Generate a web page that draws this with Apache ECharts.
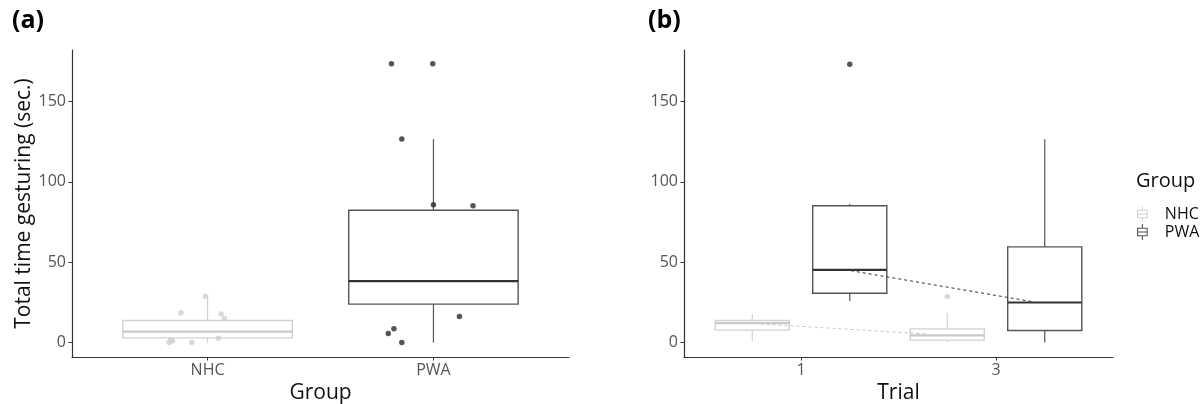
<!DOCTYPE html>
<html>
<head>
<meta charset="utf-8">
<script src="https://cdn.jsdelivr.net/npm/echarts@6/dist/echarts.min.js"></script>
<style>
  html, body { margin: 0; padding: 0; background: #fff; }
  #chart { width: 1202px; height: 404px; }
</style>
</head>
<body>
<div id="chart"></div>
<script>
// ---- data ----
const groups = ['NHC', 'PWA'];
const trials = ['1', '3'];
const yTicks = [0, 50, 100, 150];

// panel (a): box stats per group [min, q1, median, q3, max]
const nhcStatsA = [0, 2.9, 6.8, 13.7, 29.0];
const pwaStatsA = [0, 23.9, 38.2, 82.3, 126.6];

// panel (a): jittered observations [x, seconds]
const nhcPointsA = [[0.830, 0], [0.845, 1.0], [0.837, 1.7], [0.930, 0], [0.882, 18.6],
                    [0.991, 28.8], [1.060, 17.8], [1.075, 14.9], [1.048, 2.7]];
const pwaPointsA = [[1.814, 173.4], [1.997, 173.4], [1.860, 126.6], [2.000, 85.8],
                    [2.175, 85.1], [2.115, 16.2], [1.825, 8.5], [1.800, 5.6], [1.860, 0]];

// panel (b): box stats per trial [min, q1, median, q3, max]
const nhcStatsB = [[0.6, 7.7, 12.1, 13.7, 17.8], [0, 1.5, 4.4, 8.5, 18.3]];
const pwaStatsB = [[25.9, 30.7, 45.2, 85.1, 86.2], [0, 7.5, 24.9, 59.5, 126.4]];

// panel (b): outliers [trial index, seconds]
const nhcOutliersB = [[2, 28.6]];
const pwaOutliersB = [[1, 173.2]];

// panel (b): dashed trend between trials [x, seconds]
const nhcTrendB = [[0.793, 11.6], [1.656, 5.2]];
const pwaTrendB = [[1.256, 44.7], [2.193, 25.3]];

// ---- styling ----
const FONT = '"Open Sans", Lato, sans-serif';
const NHC_COLOR = '#d2d2d2';
const NHC_MED = '#cacaca';
const PWA_COLOR = '#555555';
const PWA_MED = '#333333';
const NHC_PT = '#cfcfcf';
const PWA_PT = '#2b2b2b';

const DODGE = 0.25;

function boxRenderer(stroke, medStroke, half) {
  return function (params, api) {
    const x = api.value(0);
    const mn = api.value(1), q1 = api.value(2), md = api.value(3), q3 = api.value(4), mx = api.value(5);
    const cMax = api.coord([x, mx]);
    const cMin = api.coord([x, mn]);
    const tl = api.coord([x - half, q3]);
    const br = api.coord([x + half, q1]);
    const mL = api.coord([x - half, md]);
    const mR = api.coord([x + half, md]);
    return {
      type: 'group',
      children: [
        { type: 'line', shape: { x1: cMax[0], y1: cMax[1], x2: cMax[0], y2: tl[1] },
          style: { stroke: stroke, lineWidth: 1.2 } },
        { type: 'line', shape: { x1: cMin[0], y1: br[1], x2: cMin[0], y2: cMin[1] },
          style: { stroke: stroke, lineWidth: 1.2 } },
        { type: 'rect', shape: { x: tl[0], y: tl[1], width: br[0] - tl[0], height: br[1] - tl[1] },
          style: { fill: '#ffffff', stroke: stroke, lineWidth: 1.4 } },
        { type: 'line', shape: { x1: mL[0], y1: mL[1], x2: mR[0], y2: mR[1] },
          style: { stroke: medStroke, lineWidth: 2.2 } }
      ]
    };
  };
}

// box-plot glyph for the legend, built from thin filled bars
const BOX_ICON = 'path://' +
  'M0 3.5H10V4.5H0Z M0 10.5H10V11.5H0Z M0 3.5H1V11.5H0Z M9 3.5H10V11.5H9Z ' +
  'M0 7H10V8H0Z M4.5 0H5.5V3.5H4.5Z M4.5 11.5H5.5V15H4.5Z';

function yAxis(gridIndex, withName) {
  return {
    type: 'value', gridIndex: gridIndex, min: -9, max: 182,
    name: withName ? 'Total time gesturing (sec.)' : '',
    nameLocation: 'middle', nameGap: 37,
    nameTextStyle: { fontFamily: FONT, fontSize: 21, color: '#111' },
    axisLine: { show: true, lineStyle: { color: '#333', width: 1.2 } },
    axisTick: { show: true, length: 3.5, customValues: yTicks, lineStyle: { color: '#333' } },
    axisLabel: { customValues: yTicks, margin: 6, fontFamily: FONT, fontSize: 16, color: '#555' },
    splitLine: { show: false }
  };
}

function xAxis(gridIndex, labels, name) {
  return {
    type: 'value', gridIndex: gridIndex, min: 0.4, max: 2.6,
    name: name, nameLocation: 'middle', nameGap: 23,
    nameTextStyle: { fontFamily: FONT, fontSize: 21, color: '#111' },
    axisLine: { show: true, onZero: false, lineStyle: { color: '#333', width: 1.2 } },
    axisTick: { show: true, length: 3.5, customValues: [1, 2], lineStyle: { color: '#333' } },
    axisLabel: { customValues: [1, 2], margin: 5, fontFamily: FONT, fontSize: 16, color: '#555',
                 formatter: v => labels[Math.round(v) - 1] },
    splitLine: { show: false }
  };
}

const series = [
  // panel (a)
  { name: 'NHC', type: 'custom', xAxisIndex: 0, yAxisIndex: 0, itemStyle: { color: NHC_COLOR },
    renderItem: boxRenderer(NHC_COLOR, NHC_MED, 0.375),
    encode: { x: 0, y: [1, 2, 3, 4, 5] }, data: [[1].concat(nhcStatsA)], z: 2 },
  { name: 'PWA', type: 'custom', xAxisIndex: 0, yAxisIndex: 0, itemStyle: { color: PWA_COLOR },
    renderItem: boxRenderer(PWA_COLOR, PWA_MED, 0.375),
    encode: { x: 0, y: [1, 2, 3, 4, 5] }, data: [[2].concat(pwaStatsA)], z: 2 },
  { name: 'NHC', type: 'scatter', xAxisIndex: 0, yAxisIndex: 0, symbolSize: 5.5,
    itemStyle: { color: NHC_PT }, data: nhcPointsA, z: 3 },
  { name: 'PWA', type: 'scatter', xAxisIndex: 0, yAxisIndex: 0, symbolSize: 5.5,
    itemStyle: { color: PWA_PT }, data: pwaPointsA, z: 3 },

  // panel (b)
  { name: 'NHC', type: 'custom', xAxisIndex: 1, yAxisIndex: 1, itemStyle: { color: NHC_COLOR },
    renderItem: boxRenderer(NHC_COLOR, NHC_MED, 0.19),
    encode: { x: 0, y: [1, 2, 3, 4, 5] },
    data: nhcStatsB.map((s, i) => [i + 1 - DODGE].concat(s)), z: 2 },
  { name: 'PWA', type: 'custom', xAxisIndex: 1, yAxisIndex: 1, itemStyle: { color: PWA_COLOR },
    renderItem: boxRenderer(PWA_COLOR, PWA_MED, 0.19),
    encode: { x: 0, y: [1, 2, 3, 4, 5] },
    data: pwaStatsB.map((s, i) => [i + 1 + DODGE].concat(s)), z: 2 },
  { name: 'NHC', type: 'scatter', xAxisIndex: 1, yAxisIndex: 1, symbolSize: 5.5,
    itemStyle: { color: NHC_PT }, data: nhcOutliersB.map(p => [p[0] - DODGE, p[1]]), z: 3 },
  { name: 'PWA', type: 'scatter', xAxisIndex: 1, yAxisIndex: 1, symbolSize: 5.5,
    itemStyle: { color: PWA_PT }, data: pwaOutliersB.map(p => [p[0] + DODGE, p[1]]), z: 3 },
  { name: 'NHC', type: 'line', xAxisIndex: 1, yAxisIndex: 1, symbol: 'none', silent: true,
    lineStyle: { color: '#c8c8c8', width: 1, type: [3, 3] }, data: nhcTrendB, z: 4 },
  { name: 'PWA', type: 'line', xAxisIndex: 1, yAxisIndex: 1, symbol: 'none', silent: true,
    lineStyle: { color: '#333333', width: 1, type: [3, 3] }, data: pwaTrendB, z: 4 }
];

const chart = echarts.init(document.getElementById('chart'), null, { renderer: 'canvas' });
chart.setOption({
  animation: false,
  backgroundColor: '#ffffff',
  textStyle: { fontFamily: FONT },
  title: [
    { text: '(a)', left: 7, top: 3, textStyle: { fontFamily: FONT, fontSize: 25, fontWeight: 'bold', color: '#000' } },
    { text: '(b)', left: 643, top: 3, textStyle: { fontFamily: FONT, fontSize: 25, fontWeight: 'bold', color: '#000' } },
    { text: 'Group', left: 1131, top: 166, textStyle: { fontFamily: FONT, fontSize: 20, fontWeight: 'normal', color: '#111' } }
  ],
  legend: {
    orient: 'vertical', left: 1132, top: 201, itemGap: 2,
    itemWidth: 11, itemHeight: 16,
    data: groups.map(g => ({ name: g, icon: BOX_ICON })),
    textStyle: { fontFamily: FONT, fontSize: 16, color: '#111', padding: [0, 0, 0, 12] },
    selectedMode: false
  },
  grid: [
    { left: 72, top: 50, width: 497, height: 307, outerBoundsMode: 'none', containLabel: false },
    { left: 684, top: 50, width: 429, height: 307, outerBoundsMode: 'none', containLabel: false }
  ],
  xAxis: [xAxis(0, groups, 'Group'), xAxis(1, trials, 'Trial')],
  yAxis: [yAxis(0, true), yAxis(1, false)],
  series: series
});
</script>
</body>
</html>
